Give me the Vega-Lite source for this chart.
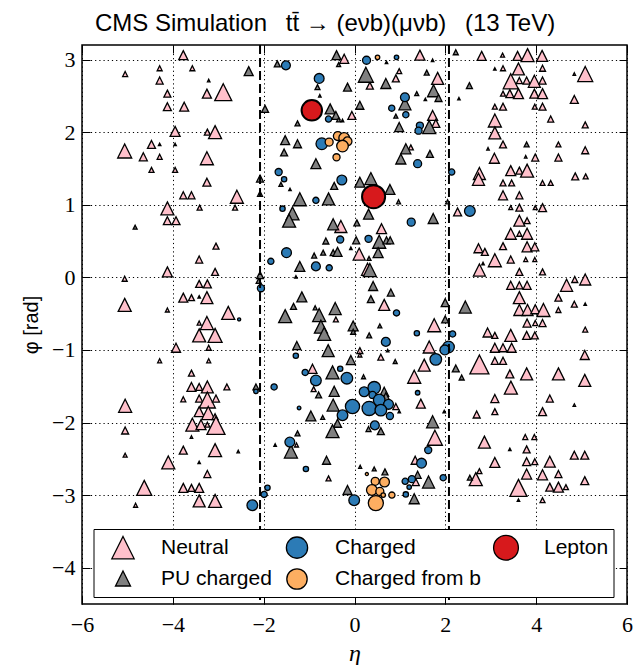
{
"$schema": "https://vega.github.io/schema/vega-lite/v6.json",
"width": 545, "height": 559,
"autosize": {"type": "none"},
"padding": {"left": 82, "top": 45, "right": 15, "bottom": 61},
"background": "white",
"title": {"text": "CMS Simulation\u2002 tt̄ → (eνb)(μνb) \u2002(13 TeV)", "anchor": "start", "frame": "group", "dx": 13, "offset": 8, "font": "Liberation Sans", "fontSize": 24, "fontWeight": "normal", "color": "black"},
"config": {"view": {"stroke": "black", "strokeWidth": 1.5}, "font": "Liberation Sans"},
"resolve": {"scale": {"size": "independent"}, "legend": {"color": "independent", "shape": "independent", "size": "independent"}},
"datasets": {
"pts": [
{"type":"Neutral","eta":-3.77,"phi":3.06,"pt":9},{"type":"Neutral","eta":-5.05,"phi":2.80,"pt":5},{"type":"Neutral","eta":-4.29,"phi":2.88,"pt":5},{"type":"Neutral","eta":-3.57,"phi":2.88,"pt":5},{"type":"Neutral","eta":-4.29,"phi":2.71,"pt":7},{"type":"Neutral","eta":-4.12,"phi":2.53,"pt":7},{"type":"Neutral","eta":-3.25,"phi":2.53,"pt":9},{"type":"Neutral","eta":-2.89,"phi":2.55,"pt":17},{"type":"Neutral","eta":-4.12,"phi":2.35,"pt":8},{"type":"Neutral","eta":-3.75,"phi":2.35,"pt":9},{"type":"Neutral","eta":-3.95,"phi":2.01,"pt":10},{"type":"Neutral","eta":-3.24,"phi":2.00,"pt":6},{"type":"Neutral","eta":-3.07,"phi":2.00,"pt":13},{"type":"Neutral","eta":-5.06,"phi":1.74,"pt":14},{"type":"Neutral","eta":-4.47,"phi":1.83,"pt":8},{"type":"Neutral","eta":-4.65,"phi":1.66,"pt":8},{"type":"Neutral","eta":-4.29,"phi":1.66,"pt":5},{"type":"Neutral","eta":-3.25,"phi":1.64,"pt":13},{"type":"Neutral","eta":-4.47,"phi":1.48,"pt":5},{"type":"Neutral","eta":-3.95,"phi":1.48,"pt":5},{"type":"Neutral","eta":-3.25,"phi":1.31,"pt":8},{"type":"Neutral","eta":-3.77,"phi":1.13,"pt":7},{"type":"Neutral","eta":-3.59,"phi":1.13,"pt":7},{"type":"Neutral","eta":-2.59,"phi":1.11,"pt":13},{"type":"Neutral","eta":-3.21,"phi":2.71,"pt":2.5},{"type":"Neutral","eta":-4.29,"phi":1.83,"pt":2.5},{"type":"Neutral","eta":-3.95,"phi":1.83,"pt":2.5},
{"type":"Neutral","eta":-0.227,"phi":3.01,"pt":9},{"type":"Neutral","eta":1.44,"phi":3.06,"pt":10},{"type":"Neutral","eta":0.984,"phi":2.84,"pt":5},{"type":"Neutral","eta":0.91,"phi":2.74,"pt":7},{"type":"Neutral","eta":1.83,"phi":2.74,"pt":12},{"type":"Neutral","eta":0.338,"phi":2.64,"pt":7},{"type":"Neutral","eta":-0.058,"phi":2.23,"pt":8},{"type":"Neutral","eta":1.72,"phi":2.23,"pt":10},{"type":"Neutral","eta":1.79,"phi":2.12,"pt":8},{"type":"Neutral","eta":1.24,"phi":1.79,"pt":5},
{"type":"Neutral","eta":2.80,"phi":3.05,"pt":9},{"type":"Neutral","eta":3.26,"phi":3.06,"pt":4},{"type":"Neutral","eta":3.59,"phi":3.05,"pt":9},{"type":"Neutral","eta":3.81,"phi":3.06,"pt":13},{"type":"Neutral","eta":4.13,"phi":3.05,"pt":11},{"type":"Neutral","eta":3.09,"phi":2.87,"pt":2.5},{"type":"Neutral","eta":3.27,"phi":2.88,"pt":5},{"type":"Neutral","eta":3.61,"phi":2.87,"pt":12},{"type":"Neutral","eta":4.14,"phi":2.88,"pt":6},{"type":"Neutral","eta":4.84,"phi":2.80,"pt":2.5},{"type":"Neutral","eta":5.08,"phi":2.80,"pt":15},{"type":"Neutral","eta":3.44,"phi":2.70,"pt":15},{"type":"Neutral","eta":3.63,"phi":2.71,"pt":6},{"type":"Neutral","eta":3.79,"phi":2.71,"pt":7},{"type":"Neutral","eta":3.96,"phi":2.70,"pt":12},{"type":"Neutral","eta":4.14,"phi":2.71,"pt":7},{"type":"Neutral","eta":3.27,"phi":2.53,"pt":5},{"type":"Neutral","eta":3.42,"phi":2.53,"pt":8},{"type":"Neutral","eta":3.61,"phi":2.53,"pt":10},{"type":"Neutral","eta":3.96,"phi":2.53,"pt":9},{"type":"Neutral","eta":4.14,"phi":2.53,"pt":10},{"type":"Neutral","eta":4.84,"phi":2.45,"pt":8},{"type":"Neutral","eta":3.09,"phi":2.35,"pt":5},{"type":"Neutral","eta":3.27,"phi":2.35,"pt":7},{"type":"Neutral","eta":3.97,"phi":2.35,"pt":5},{"type":"Neutral","eta":4.14,"phi":2.35,"pt":7},{"type":"Neutral","eta":4.32,"phi":2.18,"pt":6},{"type":"Neutral","eta":3.09,"phi":2.16,"pt":13},{"type":"Neutral","eta":5.08,"phi":2.10,"pt":6},{"type":"Neutral","eta":3.09,"phi":1.99,"pt":12},{"type":"Neutral","eta":3.27,"phi":1.83,"pt":7},{"type":"Neutral","eta":4.49,"phi":1.83,"pt":5},{"type":"Neutral","eta":2.94,"phi":1.77,"pt":2.5},{"type":"Neutral","eta":3.08,"phi":1.64,"pt":10},{"type":"Neutral","eta":3.77,"phi":1.66,"pt":2.5},{"type":"Neutral","eta":3.98,"phi":1.65,"pt":7},{"type":"Neutral","eta":4.49,"phi":1.65,"pt":7},{"type":"Neutral","eta":5.08,"phi":1.75,"pt":7},{"type":"Neutral","eta":2.75,"phi":1.43,"pt":12},{"type":"Neutral","eta":2.73,"phi":1.35,"pt":12},{"type":"Neutral","eta":3.44,"phi":1.47,"pt":10},{"type":"Neutral","eta":3.63,"phi":1.47,"pt":7},{"type":"Neutral","eta":3.80,"phi":1.47,"pt":13},{"type":"Neutral","eta":3.27,"phi":1.30,"pt":6},{"type":"Neutral","eta":3.46,"phi":1.30,"pt":6},{"type":"Neutral","eta":4.14,"phi":1.30,"pt":5},{"type":"Neutral","eta":4.32,"phi":1.30,"pt":5},{"type":"Neutral","eta":4.86,"phi":1.39,"pt":7},{"type":"Neutral","eta":5.09,"phi":1.39,"pt":5},{"type":"Neutral","eta":3.27,"phi":1.13,"pt":9},{"type":"Neutral","eta":3.63,"phi":1.13,"pt":7},
{"type":"Neutral","eta":-4.12,"phi":0.95,"pt":13},{"type":"Neutral","eta":-3.41,"phi":0.96,"pt":5},{"type":"Neutral","eta":-2.63,"phi":0.96,"pt":5},{"type":"Neutral","eta":-4.12,"phi":0.78,"pt":8},{"type":"Neutral","eta":-3.93,"phi":0.78,"pt":8},{"type":"Neutral","eta":-3.05,"phi":0.43,"pt":6},{"type":"Neutral","eta":-3.42,"phi":0.245,"pt":7},{"type":"Neutral","eta":-4.12,"phi":0.075,"pt":10},{"type":"Neutral","eta":-3.07,"phi":0.075,"pt":7},{"type":"Neutral","eta":-5.06,"phi":-0.02,"pt":5},{"type":"Neutral","eta":-3.42,"phi":-0.09,"pt":7},{"type":"Neutral","eta":-3.24,"phi":-0.09,"pt":8},{"type":"Neutral","eta":-3.77,"phi":-0.28,"pt":9},{"type":"Neutral","eta":-3.59,"phi":-0.28,"pt":6},{"type":"Neutral","eta":-3.42,"phi":-0.27,"pt":2.5},{"type":"Neutral","eta":-3.25,"phi":-0.28,"pt":12},{"type":"Neutral","eta":-5.06,"phi":-0.38,"pt":13},{"type":"Neutral","eta":-4.12,"phi":-0.45,"pt":4},{"type":"Neutral","eta":-2.78,"phi":-0.49,"pt":13},{"type":"Neutral","eta":-3.42,"phi":-0.63,"pt":4},{"type":"Neutral","eta":-3.25,"phi":-0.63,"pt":13},{"type":"Neutral","eta":-3.42,"phi":-0.80,"pt":13},{"type":"Neutral","eta":-3.07,"phi":-0.80,"pt":14},{"type":"Neutral","eta":-3.93,"phi":-0.97,"pt":9},{"type":"Neutral","eta":-3.21,"phi":-0.97,"pt":5},
{"type":"Neutral","eta":-0.30,"phi":0.70,"pt":12},{"type":"Neutral","eta":0.595,"phi":0.67,"pt":10},{"type":"Neutral","eta":0.103,"phi":0.32,"pt":12},{"type":"Neutral","eta":0.287,"phi":0.11,"pt":12},{"type":"Neutral","eta":0.654,"phi":-0.38,"pt":11},{"type":"Neutral","eta":-0.41,"phi":-0.58,"pt":5},{"type":"Neutral","eta":1.755,"phi":-0.66,"pt":13},{"type":"Neutral","eta":0.118,"phi":-1.01,"pt":6},{"type":"Neutral","eta":0.118,"phi":-1.07,"pt":4},{"type":"Neutral","eta":0.58,"phi":-1.10,"pt":6},{"type":"Neutral","eta":1.645,"phi":-0.96,"pt":12},
{"type":"Neutral","eta":2.27,"phi":0.90,"pt":8},{"type":"Neutral","eta":3.44,"phi":0.96,"pt":4},{"type":"Neutral","eta":3.63,"phi":0.96,"pt":7},{"type":"Neutral","eta":3.98,"phi":0.96,"pt":4},{"type":"Neutral","eta":4.14,"phi":0.96,"pt":8},{"type":"Neutral","eta":3.63,"phi":0.78,"pt":11},{"type":"Neutral","eta":3.80,"phi":0.78,"pt":6},{"type":"Neutral","eta":3.44,"phi":0.60,"pt":11},{"type":"Neutral","eta":3.63,"phi":0.60,"pt":5},{"type":"Neutral","eta":3.80,"phi":0.60,"pt":11},{"type":"Neutral","eta":2.73,"phi":0.40,"pt":9},{"type":"Neutral","eta":2.87,"phi":0.35,"pt":7},{"type":"Neutral","eta":3.27,"phi":0.43,"pt":7},{"type":"Neutral","eta":3.80,"phi":0.42,"pt":10},{"type":"Neutral","eta":3.97,"phi":0.42,"pt":8},{"type":"Neutral","eta":3.09,"phi":0.235,"pt":13},{"type":"Neutral","eta":3.44,"phi":0.245,"pt":7},{"type":"Neutral","eta":3.77,"phi":0.245,"pt":4},{"type":"Neutral","eta":3.97,"phi":0.245,"pt":4},{"type":"Neutral","eta":2.75,"phi":0.10,"pt":12},{"type":"Neutral","eta":2.83,"phi":0.19,"pt":2.5},{"type":"Neutral","eta":3.63,"phi":0.075,"pt":7},{"type":"Neutral","eta":4.14,"phi":0.075,"pt":6},{"type":"Neutral","eta":3.44,"phi":-0.11,"pt":8},{"type":"Neutral","eta":3.63,"phi":-0.11,"pt":7},{"type":"Neutral","eta":3.80,"phi":-0.11,"pt":8},{"type":"Neutral","eta":4.67,"phi":-0.11,"pt":12},{"type":"Neutral","eta":4.85,"phi":-0.03,"pt":6},{"type":"Neutral","eta":5.08,"phi":-0.03,"pt":11},{"type":"Neutral","eta":3.63,"phi":-0.28,"pt":12},{"type":"Neutral","eta":4.49,"phi":-0.28,"pt":7},{"type":"Neutral","eta":3.63,"phi":-0.45,"pt":11},{"type":"Neutral","eta":3.81,"phi":-0.45,"pt":11},{"type":"Neutral","eta":3.98,"phi":-0.44,"pt":9},{"type":"Neutral","eta":4.16,"phi":-0.45,"pt":13},{"type":"Neutral","eta":4.84,"phi":-0.37,"pt":6},{"type":"Neutral","eta":4.49,"phi":-0.45,"pt":5},{"type":"Neutral","eta":3.80,"phi":-0.63,"pt":8},{"type":"Neutral","eta":3.98,"phi":-0.63,"pt":5},{"type":"Neutral","eta":4.14,"phi":-0.63,"pt":7},{"type":"Neutral","eta":2.93,"phi":-0.76,"pt":9},{"type":"Neutral","eta":3.09,"phi":-0.80,"pt":6},{"type":"Neutral","eta":3.44,"phi":-0.80,"pt":12},{"type":"Neutral","eta":3.79,"phi":-0.80,"pt":8},{"type":"Neutral","eta":3.97,"phi":-0.80,"pt":7},{"type":"Neutral","eta":5.08,"phi":-0.72,"pt":5},{"type":"Neutral","eta":3.09,"phi":-0.97,"pt":9},{"type":"Neutral","eta":3.27,"phi":-0.97,"pt":8},{"type":"Neutral","eta":3.46,"phi":-0.97,"pt":9},{"type":"Neutral","eta":5.07,"phi":-1.07,"pt":9},
{"type":"Neutral","eta":-4.29,"phi":-1.15,"pt":4},{"type":"Neutral","eta":-3.21,"phi":-1.15,"pt":4},{"type":"Neutral","eta":-3.59,"phi":-1.32,"pt":6},{"type":"Neutral","eta":-3.59,"phi":-1.51,"pt":9},{"type":"Neutral","eta":-3.42,"phi":-1.51,"pt":7},{"type":"Neutral","eta":-3.24,"phi":-1.51,"pt":12},{"type":"Neutral","eta":-2.81,"phi":-1.51,"pt":6},{"type":"Neutral","eta":-5.05,"phi":-1.77,"pt":13},{"type":"Neutral","eta":-3.77,"phi":-1.68,"pt":5},{"type":"Neutral","eta":-3.42,"phi":-1.67,"pt":7},{"type":"Neutral","eta":-3.24,"phi":-1.69,"pt":16},{"type":"Neutral","eta":-3.05,"phi":-1.67,"pt":7},{"type":"Neutral","eta":-3.42,"phi":-1.85,"pt":10},{"type":"Neutral","eta":-3.22,"phi":-1.87,"pt":13},{"type":"Neutral","eta":-3.07,"phi":-1.92,"pt":6},{"type":"Neutral","eta":-3.57,"phi":-2.03,"pt":13},{"type":"Neutral","eta":-3.38,"phi":-2.03,"pt":10},{"type":"Neutral","eta":-3.24,"phi":-2.03,"pt":5},{"type":"Neutral","eta":-3.05,"phi":-2.04,"pt":18},{"type":"Neutral","eta":-5.05,"phi":-2.11,"pt":7},{"type":"Neutral","eta":-3.59,"phi":-2.20,"pt":2.5},{"type":"Neutral","eta":-3.77,"phi":-2.38,"pt":8},{"type":"Neutral","eta":-3.07,"phi":-2.38,"pt":13},{"type":"Neutral","eta":-5.05,"phi":-2.45,"pt":4},{"type":"Neutral","eta":-2.56,"phi":-2.40,"pt":2.5},{"type":"Neutral","eta":-4.10,"phi":-2.55,"pt":13},{"type":"Neutral","eta":-3.42,"phi":-2.55,"pt":2.5},{"type":"Neutral","eta":-3.24,"phi":-2.71,"pt":7},{"type":"Neutral","eta":-4.63,"phi":-2.90,"pt":15},{"type":"Neutral","eta":-3.77,"phi":-2.90,"pt":9},{"type":"Neutral","eta":-3.59,"phi":-2.90,"pt":7},{"type":"Neutral","eta":-3.42,"phi":-2.90,"pt":9},{"type":"Neutral","eta":-3.42,"phi":-3.08,"pt":12},{"type":"Neutral","eta":-3.07,"phi":-3.08,"pt":13},{"type":"Neutral","eta":-4.82,"phi":-3.14,"pt":4},
{"type":"Neutral","eta":1.535,"phi":-1.21,"pt":12},{"type":"Neutral","eta":-0.925,"phi":-1.26,"pt":9},{"type":"Neutral","eta":-0.90,"phi":-1.54,"pt":5},{"type":"Neutral","eta":1.315,"phi":-1.37,"pt":13},{"type":"Neutral","eta":1.46,"phi":-1.74,"pt":9},{"type":"Neutral","eta":0.91,"phi":-1.78,"pt":6},{"type":"Neutral","eta":1.77,"phi":-2.21,"pt":15},{"type":"Neutral","eta":-1.277,"phi":-2.31,"pt":4},{"type":"Neutral","eta":-0.572,"phi":-2.77,"pt":5},{"type":"Neutral","eta":1.336,"phi":-2.52,"pt":8},{"type":"Neutral","eta":1.35,"phi":-2.82,"pt":7},
{"type":"Neutral","eta":2.75,"phi":-1.20,"pt":19},{"type":"Neutral","eta":3.09,"phi":-1.15,"pt":7},{"type":"Neutral","eta":3.27,"phi":-1.15,"pt":7},{"type":"Neutral","eta":3.42,"phi":-1.33,"pt":8},{"type":"Neutral","eta":3.79,"phi":-1.33,"pt":12},{"type":"Neutral","eta":4.49,"phi":-1.33,"pt":12},{"type":"Neutral","eta":5.07,"phi":-1.42,"pt":12},{"type":"Neutral","eta":3.443,"phi":-1.52,"pt":13},{"type":"Neutral","eta":3.09,"phi":-1.67,"pt":8},{"type":"Neutral","eta":4.30,"phi":-1.67,"pt":7},{"type":"Neutral","eta":4.84,"phi":-1.76,"pt":2.5},{"type":"Neutral","eta":2.69,"phi":-1.89,"pt":7},{"type":"Neutral","eta":3.09,"phi":-1.85,"pt":6},{"type":"Neutral","eta":4.14,"phi":-1.85,"pt":8},{"type":"Neutral","eta":3.76,"phi":-2.20,"pt":5},{"type":"Neutral","eta":3.96,"phi":-2.20,"pt":5},{"type":"Neutral","eta":2.86,"phi":-2.27,"pt":12},{"type":"Neutral","eta":3.42,"phi":-2.37,"pt":2.5},{"type":"Neutral","eta":3.79,"phi":-2.37,"pt":7},{"type":"Neutral","eta":4.84,"phi":-2.45,"pt":8},{"type":"Neutral","eta":5.07,"phi":-2.45,"pt":8},{"type":"Neutral","eta":3.09,"phi":-2.55,"pt":10},{"type":"Neutral","eta":3.79,"phi":-2.54,"pt":8},{"type":"Neutral","eta":3.97,"phi":-2.54,"pt":6},{"type":"Neutral","eta":4.30,"phi":-2.54,"pt":11},{"type":"Neutral","eta":2.75,"phi":-2.67,"pt":5},{"type":"Neutral","eta":2.67,"phi":-2.78,"pt":13},{"type":"Neutral","eta":3.79,"phi":-2.71,"pt":10},{"type":"Neutral","eta":4.14,"phi":-2.72,"pt":10},{"type":"Neutral","eta":4.49,"phi":-2.71,"pt":7},{"type":"Neutral","eta":3.61,"phi":-2.90,"pt":17},{"type":"Neutral","eta":4.30,"phi":-2.89,"pt":8},{"type":"Neutral","eta":4.49,"phi":-2.89,"pt":10},{"type":"Neutral","eta":4.655,"phi":-2.89,"pt":5},{"type":"Neutral","eta":5.07,"phi":-2.80,"pt":8},{"type":"Neutral","eta":3.61,"phi":-3.07,"pt":2.5},{"type":"Neutral","eta":4.14,"phi":-3.07,"pt":5},
{"type":"PU charged","eta":-2.33,"phi":2.84,"pt":9},{"type":"PU charged","eta":-1.97,"phi":2.32,"pt":7},{"type":"PU charged","eta":-2.08,"phi":1.36,"pt":7},{"type":"PU charged","eta":-2.08,"phi":1.15,"pt":5},
{"type":"PU charged","eta":-0.396,"phi":3.06,"pt":9},{"type":"PU charged","eta":-0.35,"phi":2.93,"pt":4},{"type":"PU charged","eta":-1.70,"phi":2.94,"pt":6},{"type":"PU charged","eta":1.59,"phi":2.82,"pt":5},{"type":"PU charged","eta":0.25,"phi":2.79,"pt":15},{"type":"PU charged","eta":-0.815,"phi":2.62,"pt":5},{"type":"PU charged","eta":-0.154,"phi":2.62,"pt":8},{"type":"PU charged","eta":0.69,"phi":2.67,"pt":10},{"type":"PU charged","eta":1.74,"phi":2.57,"pt":12},{"type":"PU charged","eta":1.85,"phi":2.47,"pt":7},{"type":"PU charged","eta":1.11,"phi":2.39,"pt":12},{"type":"PU charged","eta":1.37,"phi":2.53,"pt":4},{"type":"PU charged","eta":0.118,"phi":2.37,"pt":8},{"type":"PU charged","eta":-0.536,"phi":2.32,"pt":10},{"type":"PU charged","eta":-0.41,"phi":2.23,"pt":8},{"type":"PU charged","eta":-0.35,"phi":2.17,"pt":4},{"type":"PU charged","eta":-1.255,"phi":2.12,"pt":5},{"type":"PU charged","eta":0.91,"phi":2.22,"pt":4},{"type":"PU charged","eta":1.645,"phi":2.07,"pt":13},{"type":"PU charged","eta":0.984,"phi":2.07,"pt":9},{"type":"PU charged","eta":-1.527,"phi":1.89,"pt":9},{"type":"PU charged","eta":-1.255,"phi":1.84,"pt":8},{"type":"PU charged","eta":-1.55,"phi":1.72,"pt":7},{"type":"PU charged","eta":1.13,"phi":1.77,"pt":10},{"type":"PU charged","eta":1.02,"phi":1.63,"pt":10},{"type":"PU charged","eta":1.66,"phi":1.70,"pt":7},{"type":"PU charged","eta":-0.85,"phi":1.565,"pt":10},{"type":"PU charged","eta":-1.62,"phi":1.28,"pt":4},{"type":"PU charged","eta":-0.447,"phi":1.26,"pt":7},{"type":"PU charged","eta":0.118,"phi":1.31,"pt":10},{"type":"PU charged","eta":0.36,"phi":1.36,"pt":12},{"type":"PU charged","eta":0.78,"phi":1.21,"pt":10},{"type":"PU charged","eta":-1.204,"phi":1.075,"pt":13},{"type":"PU charged","eta":-0.572,"phi":1.08,"pt":12},{"type":"PU charged","eta":0.97,"phi":1.04,"pt":4},{"type":"PU charged","eta":0.705,"phi":2.96,"pt":2.5},{"type":"PU charged","eta":1.72,"phi":2.99,"pt":2.5},{"type":"PU charged","eta":-0.763,"phi":2.50,"pt":2.5},{"type":"PU charged","eta":1.56,"phi":2.45,"pt":2.5},{"type":"PU charged","eta":-0.264,"phi":2.16,"pt":2.5},{"type":"PU charged","eta":-1.42,"phi":1.21,"pt":2.5},
{"type":"PU charged","eta":2.23,"phi":3.10,"pt":5},{"type":"PU charged","eta":2.53,"phi":2.64,"pt":6},{"type":"PU charged","eta":3.79,"phi":1.83,"pt":5},{"type":"PU charged","eta":2.05,"phi":1.04,"pt":4},{"type":"PU charged","eta":2.30,"phi":2.46,"pt":2.5},
{"type":"PU charged","eta":-2.08,"phi":0.03,"pt":7},{"type":"PU charged","eta":-2.11,"phi":-0.05,"pt":5},{"type":"PU charged","eta":-4.83,"phi":0.69,"pt":4},
{"type":"PU charged","eta":-1.365,"phi":0.88,"pt":13},{"type":"PU charged","eta":-1.44,"phi":0.78,"pt":13},{"type":"PU charged","eta":0.309,"phi":0.87,"pt":10},{"type":"PU charged","eta":1.733,"phi":0.81,"pt":10},{"type":"PU charged","eta":-0.47,"phi":0.73,"pt":11},{"type":"PU charged","eta":0.052,"phi":0.75,"pt":6},{"type":"PU charged","eta":-0.631,"phi":0.50,"pt":6},{"type":"PU charged","eta":0.037,"phi":0.51,"pt":7},{"type":"PU charged","eta":0.544,"phi":0.49,"pt":13},{"type":"PU charged","eta":0.705,"phi":0.51,"pt":7},{"type":"PU charged","eta":0.786,"phi":0.51,"pt":7},{"type":"PU charged","eta":-0.888,"phi":0.30,"pt":5},{"type":"PU charged","eta":-0.69,"phi":0.34,"pt":5},{"type":"PU charged","eta":-0.47,"phi":0.34,"pt":6},{"type":"PU charged","eta":-0.374,"phi":0.35,"pt":9},{"type":"PU charged","eta":0.52,"phi":0.34,"pt":10},{"type":"PU charged","eta":-1.204,"phi":0.15,"pt":10},{"type":"PU charged","eta":0.338,"phi":0.10,"pt":13},{"type":"PU charged","eta":0.32,"phi":0.26,"pt":4},{"type":"PU charged","eta":0.41,"phi":-0.12,"pt":9},{"type":"PU charged","eta":0.80,"phi":-0.21,"pt":7},{"type":"PU charged","eta":0.36,"phi":-0.30,"pt":7},{"type":"PU charged","eta":-1.16,"phi":-0.27,"pt":10},{"type":"PU charged","eta":-1.343,"phi":-0.40,"pt":6},{"type":"PU charged","eta":-1.527,"phi":-0.535,"pt":13},{"type":"PU charged","eta":-0.778,"phi":-0.52,"pt":13},{"type":"PU charged","eta":-0.866,"phi":-0.42,"pt":4},{"type":"PU charged","eta":-0.425,"phi":-0.43,"pt":12},{"type":"PU charged","eta":-0.74,"phi":-0.68,"pt":13},{"type":"PU charged","eta":-0.668,"phi":-0.78,"pt":13},{"type":"PU charged","eta":-0.029,"phi":-0.67,"pt":10},{"type":"PU charged","eta":-0.029,"phi":-0.75,"pt":5},{"type":"PU charged","eta":0.558,"phi":-0.67,"pt":4},{"type":"PU charged","eta":0.323,"phi":-0.80,"pt":5},{"type":"PU charged","eta":-1.27,"phi":-0.94,"pt":8},{"type":"PU charged","eta":-0.58,"phi":-1.01,"pt":12},{"type":"PU charged","eta":-0.08,"phi":-1.14,"pt":9},{"type":"PU charged","eta":0.896,"phi":-1.16,"pt":4},{"type":"PU charged","eta":-0.08,"phi":0.40,"pt":2.5},{"type":"PU charged","eta":-1.29,"phi":0.006,"pt":2.5},{"type":"PU charged","eta":0.73,"phi":-1.01,"pt":2.5},
{"type":"PU charged","eta":1.997,"phi":-0.35,"pt":8},{"type":"PU charged","eta":2.44,"phi":-0.41,"pt":12},{"type":"PU charged","eta":1.997,"phi":-0.58,"pt":7},{"type":"PU charged","eta":5.08,"phi":-0.37,"pt":2.5},
{"type":"PU charged","eta":-2.17,"phi":-1.51,"pt":6},
{"type":"PU charged","eta":-0.484,"phi":-1.31,"pt":13},{"type":"PU charged","eta":0.199,"phi":-1.37,"pt":4},{"type":"PU charged","eta":-0.79,"phi":-1.62,"pt":6},{"type":"PU charged","eta":-0.447,"phi":-1.57,"pt":10},{"type":"PU charged","eta":-0.47,"phi":-1.76,"pt":12},{"type":"PU charged","eta":-0.961,"phi":-1.91,"pt":10},{"type":"PU charged","eta":-0.70,"phi":-1.93,"pt":4},{"type":"PU charged","eta":0.654,"phi":-1.576,"pt":9},{"type":"PU charged","eta":0.69,"phi":-1.645,"pt":8},{"type":"PU charged","eta":0.985,"phi":-1.85,"pt":2.5},{"type":"PU charged","eta":1.72,"phi":-1.99,"pt":12},{"type":"PU charged","eta":0.309,"phi":-2.09,"pt":5},{"type":"PU charged","eta":0.58,"phi":-2.12,"pt":7},{"type":"PU charged","eta":-0.374,"phi":-2.01,"pt":8},{"type":"PU charged","eta":-0.484,"phi":-2.12,"pt":13},{"type":"PU charged","eta":-1.255,"phi":-2.15,"pt":5},{"type":"PU charged","eta":-1.40,"phi":-2.40,"pt":13},{"type":"PU charged","eta":-0.616,"phi":-2.52,"pt":8},{"type":"PU charged","eta":0.125,"phi":-2.61,"pt":3},{"type":"PU charged","eta":0.434,"phi":-2.64,"pt":4},{"type":"PU charged","eta":0.67,"phi":-2.68,"pt":6},{"type":"PU charged","eta":-0.154,"phi":-2.93,"pt":9},{"type":"PU charged","eta":1.39,"phi":-2.72,"pt":7},{"type":"PU charged","eta":1.63,"phi":-2.82,"pt":12},{"type":"PU charged","eta":1.315,"phi":-3.05,"pt":10},{"type":"PU charged","eta":1.975,"phi":-1.85,"pt":2.5},{"type":"PU charged","eta":-1.747,"phi":-2.31,"pt":2.5},
{"type":"PU charged","eta":2.23,"phi":-1.255,"pt":7},{"type":"PU charged","eta":2.36,"phi":-1.38,"pt":5},{"type":"PU charged","eta":2.54,"phi":-2.76,"pt":5},
{"type":"Charged","eta":-1.51,"phi":2.92,"pt":8.9},{"type":"Charged","eta":0.265,"phi":2.99,"pt":8},{"type":"Charged","eta":0.925,"phi":3.03,"pt":4.5},{"type":"Charged","eta":-0.778,"phi":2.74,"pt":9.8},{"type":"Charged","eta":1.11,"phi":2.48,"pt":8.9},{"type":"Charged","eta":0.82,"phi":2.33,"pt":6.2},{"type":"Charged","eta":-0.572,"phi":2.18,"pt":6.2},{"type":"Charged","eta":1.13,"phi":2.24,"pt":6.2},{"type":"Charged","eta":1.44,"phi":2.09,"pt":7.1},{"type":"Charged","eta":1.41,"phi":2.02,"pt":7.1},{"type":"Charged","eta":-0.72,"phi":1.84,"pt":11.6},{"type":"Charged","eta":1.39,"phi":1.565,"pt":8},{"type":"Charged","eta":-1.67,"phi":1.45,"pt":7.1},{"type":"Charged","eta":-1.55,"phi":1.35,"pt":5.3},{"type":"Charged","eta":-0.279,"phi":1.34,"pt":9.8},{"type":"Charged","eta":-0.85,"phi":1.06,"pt":6.2},{"type":"Charged","eta":2.14,"phi":1.45,"pt":6.2},{"type":"Charged","eta":-2.06,"phi":-0.15,"pt":7.1},{"type":"Charged","eta":-2.54,"phi":-0.58,"pt":3.1},{"type":"Charged","eta":-1.585,"phi":0.946,"pt":5.3},{"type":"Charged","eta":1.249,"phi":0.76,"pt":8},{"type":"Charged","eta":-0.315,"phi":0.52,"pt":7.1},{"type":"Charged","eta":0.309,"phi":0.53,"pt":7.1},{"type":"Charged","eta":-1.497,"phi":0.34,"pt":9.8},{"type":"Charged","eta":-1.842,"phi":0.22,"pt":6.2},{"type":"Charged","eta":-0.85,"phi":0.15,"pt":8.9},{"type":"Charged","eta":-0.557,"phi":0.13,"pt":6.2},{"type":"Charged","eta":0.925,"phi":-0.49,"pt":6.2},{"type":"Charged","eta":1.373,"phi":-0.77,"pt":5.3},{"type":"Charged","eta":0.69,"phi":-0.89,"pt":8.9},{"type":"Charged","eta":-1.292,"phi":-1.08,"pt":5.3},{"type":"Charged","eta":1.79,"phi":-1.13,"pt":11.6},{"type":"Charged","eta":2.54,"phi":0.914,"pt":10.7},{"type":"Charged","eta":2.16,"phi":-0.78,"pt":6.2},{"type":"Charged","eta":2.07,"phi":-0.96,"pt":11.6},{"type":"Charged","eta":1.99,"phi":-1.0,"pt":9.8},{"type":"Charged","eta":-2.17,"phi":-1.57,"pt":4.5},{"type":"Charged","eta":-2.25,"phi":-3.14,"pt":10.7},{"type":"Charged","eta":-1.99,"phi":-2.99,"pt":6.2},{"type":"Charged","eta":-1.086,"phi":-1.31,"pt":6.2},{"type":"Charged","eta":-0.85,"phi":-1.42,"pt":10.7},{"type":"Charged","eta":-0.315,"phi":-1.26,"pt":5.3},{"type":"Charged","eta":-0.168,"phi":-1.39,"pt":11.6},{"type":"Charged","eta":1.39,"phi":-1.59,"pt":4.5},{"type":"Charged","eta":-1.77,"phi":-1.51,"pt":6.2},{"type":"Charged","eta":-1.22,"phi":-1.80,"pt":3.6},{"type":"Charged","eta":-0.044,"phi":-1.78,"pt":14.2},{"type":"Charged","eta":-0.264,"phi":-1.90,"pt":10.7},{"type":"Charged","eta":0.213,"phi":-1.576,"pt":9.8},{"type":"Charged","eta":0.434,"phi":-1.521,"pt":12.5},{"type":"Charged","eta":0.397,"phi":-1.62,"pt":7.1},{"type":"Charged","eta":0.323,"phi":-1.806,"pt":14.2},{"type":"Charged","eta":0.544,"phi":-1.69,"pt":11.6},{"type":"Charged","eta":0.749,"phi":-1.75,"pt":9.8},{"type":"Charged","eta":0.58,"phi":-1.83,"pt":11.6},{"type":"Charged","eta":0.78,"phi":-1.91,"pt":7.1},{"type":"Charged","eta":0.448,"phi":-2.04,"pt":8.9},{"type":"Charged","eta":-1.424,"phi":-2.27,"pt":9.8},{"type":"Charged","eta":-1.07,"phi":-2.64,"pt":5.3},{"type":"Charged","eta":1.623,"phi":-2.38,"pt":7.1},{"type":"Charged","eta":1.476,"phi":-2.56,"pt":9.8},{"type":"Charged","eta":-0.007,"phi":-3.07,"pt":10.7},{"type":"Charged","eta":-1.916,"phi":-2.90,"pt":5.3},{"type":"Charged","eta":1.116,"phi":-2.81,"pt":6.2},{"type":"Charged","eta":1.263,"phi":-2.78,"pt":7.1},{"type":"Charged","eta":1.204,"phi":-2.89,"pt":4.5},{"type":"Charged","eta":1.13,"phi":-2.99,"pt":5.3},{"type":"Charged","eta":1.953,"phi":-2.76,"pt":6.2},
{"type":"Charged from b","eta":0.507,"phi":3.03,"pt":4.5},{"type":"Charged from b","eta":-0.558,"phi":1.863,"pt":8},{"type":"Charged from b","eta":-0.367,"phi":1.946,"pt":8.9},{"type":"Charged from b","eta":-0.227,"phi":1.918,"pt":10.7},{"type":"Charged from b","eta":-0.154,"phi":1.873,"pt":8.9},{"type":"Charged from b","eta":-0.264,"phi":1.808,"pt":11.6},{"type":"Charged from b","eta":-0.396,"phi":1.653,"pt":7.1},{"type":"Charged from b","eta":0.272,"phi":-2.71,"pt":3.1},{"type":"Charged from b","eta":0.456,"phi":-2.81,"pt":8},{"type":"Charged from b","eta":0.661,"phi":-2.82,"pt":9.8},{"type":"Charged from b","eta":0.382,"phi":-2.93,"pt":10.7},{"type":"Charged from b","eta":0.558,"phi":-2.95,"pt":8},{"type":"Charged from b","eta":0.632,"phi":-3.0,"pt":4.5},{"type":"Charged from b","eta":0.823,"phi":-3.0,"pt":6.2},{"type":"Charged from b","eta":0.47,"phi":-3.11,"pt":15.1},
{"type":"Lepton","eta":-0.94,"phi":2.30,"pt":20.5},{"type":"Lepton","eta":0.42,"phi":1.11,"pt":23.1}
],
"cuts": [{"eta": -2.08}, {"eta": 2.08}]
},
"layer": [
{
"data": {"name": "pts"},
"mark": {"type": "point", "filled": true, "stroke": "black", "opacity": 1},
"encoding": {
"x": {"field": "eta", "type": "quantitative", "scale": {"domain": [-6, 6], "nice": false, "zero": false},
  "axis": {"orient": "bottom", "values": [-6,-4,-2,0,2,4,6], "grid": true, "gridColor": "black", "gridDash": [1.2, 3], "gridWidth": 1, "gridOpacity": 1, "domain": false, "ticks": true, "tickSize": -8, "tickColor": "black", "tickWidth": 1, "labelFont": "Liberation Serif", "labelFontSize": 22, "labelColor": "black", "labelPadding": 18, "labelFlush": false, "labelOverlap": false, "title": "η", "titleFont": "Liberation Serif", "titleFontStyle": "italic", "titleFontSize": 24, "titleFontWeight": "normal", "titleColor": "black", "titlePadding": 6}},
"y": {"field": "phi", "type": "quantitative", "scale": {"domain": [-4.5, 3.2], "nice": false, "zero": false},
  "axis": {"orient": "left", "values": [-4,-3,-2,-1,0,1,2,3], "grid": true, "gridColor": "black", "gridDash": [1.2, 3], "gridWidth": 1, "gridOpacity": 1, "domain": false, "ticks": true, "tickSize": -8, "tickColor": "black", "tickWidth": 1, "labelFont": "Liberation Serif", "labelFontSize": 22, "labelColor": "black", "labelPadding": 15, "labelFlush": false, "labelOverlap": false, "title": "φ [rad]", "titleFont": "Liberation Sans", "titleFontSize": 20, "titleFontWeight": "normal", "titleColor": "black", "titlePadding": 10}},
"color": {"field": "type", "type": "nominal", "scale": {"domain": ["Neutral", "Charged", "Lepton", "PU charged", "Charged from b"], "range": ["#ffc0cb", "#2c7bb6", "#d7191c", "#808080", "#fdae61"]}, "legend": null},
"shape": {"field": "type", "type": "nominal", "scale": {"domain": ["Neutral", "Charged", "Lepton", "PU charged", "Charged from b"], "range": ["M0,-1L1,1L-1,1Z", "circle", "circle", "M0,-1L1,1L-1,1Z", "circle"]}, "legend": null},
"size": {"field": "pt", "type": "quantitative", "scale": {"type": "pow", "exponent": 2, "domain": [0, 30], "range": [0, 900]}, "legend": null},
"strokeWidth": {"condition": {"test": "datum.type === 'Lepton'", "value": 2}, "value": 1.3}
}
},
{
"data": {"name": "pts"},
"mark": {"type": "point", "filled": true, "stroke": "black", "strokeWidth": 1.3, "opacity": 0},
"encoding": {
"y": {"field": "phi", "type": "quantitative", "scale": {"domain": [-4.5, 3.2], "nice": false, "zero": false},
  "axis": {"orient": "right", "values": [-4,-3,-2,-1,0,1,2,3], "grid": false, "labels": false, "domain": false, "ticks": true, "tickSize": -8, "tickColor": "black", "tickWidth": 1, "title": null}},
"color": {"field": "type", "type": "nominal", "scale": {"domain": ["Neutral", "Charged", "Lepton", "PU charged", "Charged from b"], "range": ["#ffc0cb", "#2c7bb6", "#d7191c", "#808080", "#fdae61"]},
  "legend": {"title": null, "orient": "none", "legendX": 11.5, "legendY": 484, "direction": "horizontal", "columns": 3, "labelFont": "Liberation Sans", "labelFontSize": 21, "labelColor": "black", "labelLimit": 300, "symbolOffset": 11, "labelOffset": 24.5, "columnPadding": 0, "rowPadding": 3, "padding": 5, "strokeColor": "black", "fillColor": "white", "symbolStrokeColor": "black", "symbolStrokeWidth": 1.3, "symbolOpacity": 1,
    "encode": {"legend": {"strokeWidth": {"value": 1.5}}}}},
"shape": {"field": "type", "type": "nominal", "scale": {"domain": ["Neutral", "Charged", "Lepton", "PU charged", "Charged from b"], "range": ["M0,-1L1,1L-1,1Z", "circle", "circle", "M0,-1L1,1L-1,1Z", "circle"]}},
"size": {"field": "type", "type": "nominal", "scale": {"type": "ordinal", "domain": ["Neutral", "Charged", "Lepton", "PU charged", "Charged from b"], "range": [500, 452, 616, 225, 415]}}
}
},
{
"data": {"name": "cuts"},
"mark": {"type": "rule", "strokeDash": [9, 4], "strokeWidth": 2, "color": "black"},
"encoding": {
"x": {"field": "eta", "type": "quantitative", "scale": {"domain": [-6, 6], "nice": false, "zero": false},
  "axis": {"orient": "top", "values": [-6,-4,-2,0,2,4,6], "grid": false, "labels": false, "domain": false, "ticks": true, "tickSize": -8, "tickColor": "black", "tickWidth": 1, "title": null}}
}
}
]
}
